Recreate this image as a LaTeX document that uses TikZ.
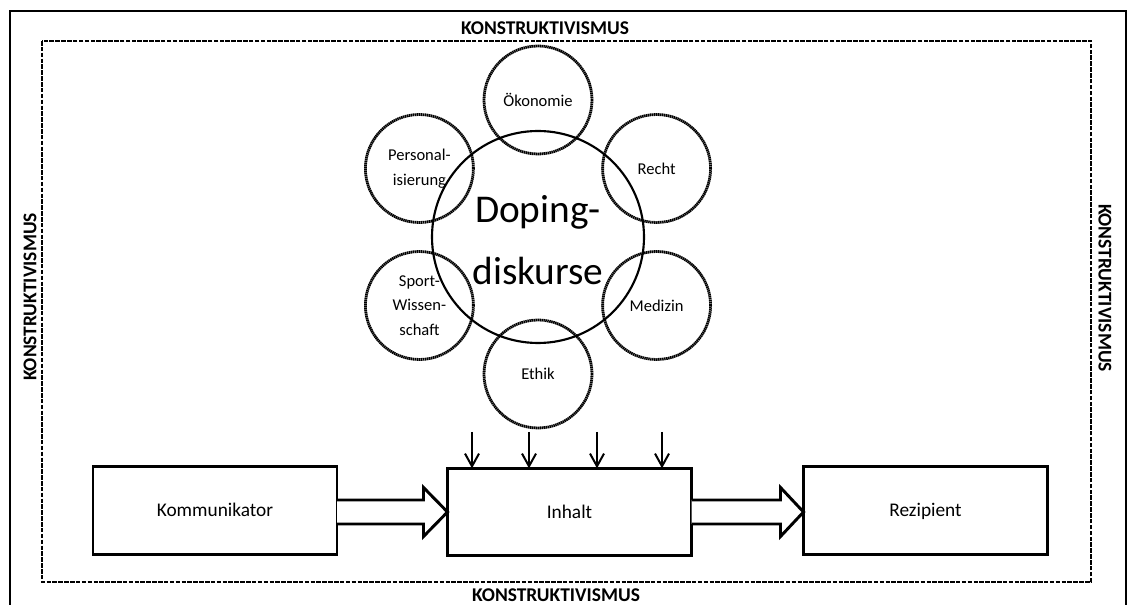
\documentclass[tikz,border=0pt]{standalone}
\usepackage{fontspec}
\setmainfont{Carlito}
\usetikzlibrary{calc,arrows.meta}
\begin{document}
\begin{tikzpicture}[x=0.75pt,y=-0.75pt,
  frame/.style={line width=2.2pt,line join=miter},
  zone/.style={line width=1.8pt,dash pattern=on 3.4pt off 1.0pt},
  zonelabel/.style={font=\fontsize{14.6}{17}\selectfont\bfseries,inner sep=0pt},
  core/.style={circle,draw,line width=1.6pt,minimum size=159pt,inner sep=0pt,outer sep=0pt},
  topic/.style={circle,draw,line width=2.1pt,dash pattern=on 1.1pt off 0.4pt,minimum size=81pt,
    inner sep=0pt,outer sep=0pt,align=center,font=\fontsize{12.4}{18.5}\selectfont},
  stage/.style={draw,line width=2.2pt,minimum width=183pt,minimum height=65.5pt,inner sep=0pt,
    outer sep=0pt,text height=0.95em,text depth=0em,font=\fontsize{14.5}{17}\selectfont},
  feed/.style={line width=1.5pt,-{Straight Barb[length=9.5pt,width=10.5pt,line width=1.5pt]}},
  blockarrow/.style={line width=2.2pt,line join=miter,fill=white}]

\useasboundingbox (0,0) rectangle (1129,605);

% outer frame, open at the bottom of the page
\draw[frame] (10,606) -- (10,11) -- (1126,11) -- (1126,606);
% dashed inner zone
\draw[zone] (42,41) rectangle (1091,582);

\node[zonelabel] (ktop) at (545,28) {KONSTRUKTIVISMUS};
\node[zonelabel] (kbot) at (556,595) {KONSTRUKTIVISMUS};
\node[zonelabel,rotate=90] (kleft) at (30,297) {KONSTRUKTIVISMUS};
\node[zonelabel,rotate=-90] (kright) at (1105,288) {KONSTRUKTIVISMUS};

% discourse fields around the central circle
\coordinate (c) at (538,237);
\node[topic] (oek) at ($(c)+(0,-137)$) {Ökonomie};
\node[topic] (recht) at ($(c)+(118.6,-68.5)$) {Recht};
\node[topic] (med) at ($(c)+(118.6,68.5)$) {Medizin};
\node[topic] (ethik) at ($(c)+(0,137)$) {Ethik};
\node[topic] (sport) at ($(c)+(-118.6,68.5)$) {Sport-\\Wissen-\\schaft};
\node[topic] (pers) at ($(c)+(-118.6,-68.5)$) {Personal-\\isierung};
\node[core] (doping) at (c) {};
\node[font=\fontsize{29.5}{46.5}\selectfont,align=center,inner sep=0pt] (dtext)
  at ($(doping.center)+(0,3)$) {Doping-\\diskurse};

% communication chain
\node[stage] (komm) at (215,510.5) {Kommunikator};
\node[stage] (inhalt) at (569.5,512) {Inhalt};
\node[stage] (rez) at (925.5,510.5) {Rezipient};

% influences on the content
\foreach \i/\xx in {1/472,2/529,3/597,4/662}{
  \coordinate (f\i) at (\xx,432);
  \draw[feed] (f\i) -- (f\i |- inhalt.north);
}

% block arrows between the stages
\draw[blockarrow] ($(komm.east|-inhalt.west)+(0,-12)$) -- ($(inhalt.west)+(-24,-12)$)
  -- ($(inhalt.west)+(-24,-24.5)$) -- (inhalt.west) -- ($(inhalt.west)+(-24,24.5)$)
  -- ($(inhalt.west)+(-24,12)$) -- ($(komm.east|-inhalt.west)+(0,12)$);
\draw[blockarrow] ($(inhalt.east)+(0,-12)$) -- ($(rez.west|-inhalt.east)+(-23,-12)$)
  -- ($(rez.west|-inhalt.east)+(-23,-24.5)$) -- (rez.west|-inhalt.east)
  -- ($(rez.west|-inhalt.east)+(-23,24.5)$) -- ($(rez.west|-inhalt.east)+(-23,12)$)
  -- ($(inhalt.east)+(0,12)$);
\end{tikzpicture}
\end{document}
